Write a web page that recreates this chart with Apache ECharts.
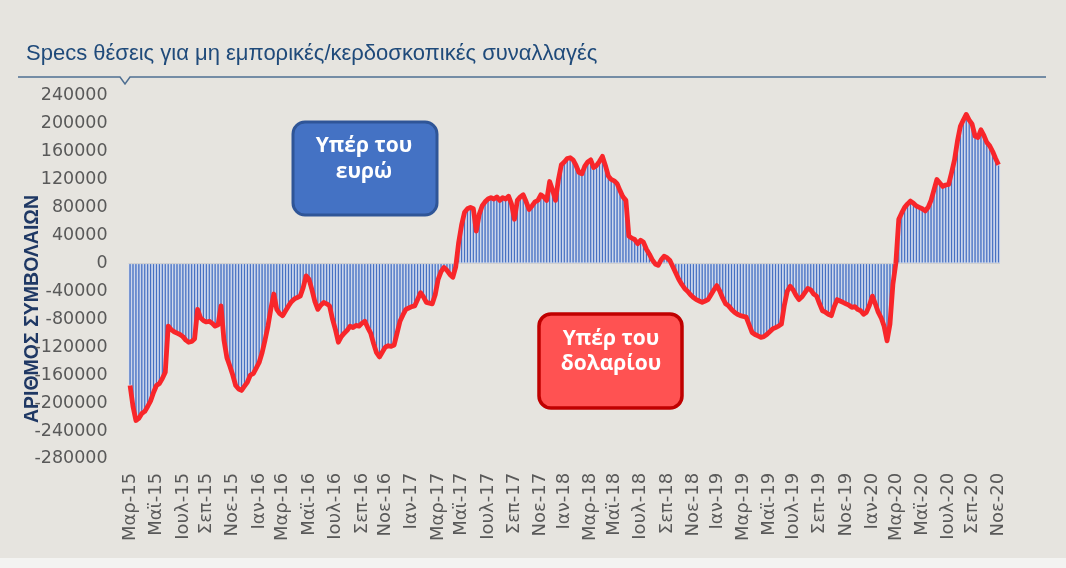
<!DOCTYPE html>
<html><head><meta charset="utf-8">
<script src="https://cdn.jsdelivr.net/npm/echarts@6/dist/echarts.min.js"></script>
<style>html,body{margin:0;padding:0;background:#e6e4df}#c{width:1066px;height:568px}</style>
</head><body><div id="c"></div>
<script>
// Weekly speculative (non-commercial) net positions, EUR futures, from 2015-03-03
const firstWeek = [2015, 2, 3];
const monthNames = ['Ιαν','Φεβ','Μαρ','Απρ','Μαϊ','Ιουν','Ιουλ','Αυγ','Σεπ','Οκτ','Νοε','Δεκ'];
const labelMonths = [0, 2, 4, 6, 8, 10];
const titleText = 'Specs θέσεις για μη εμπορικές/κερδοσκοπικές συναλλαγές';
const yAxisTitle = 'ΑΡΙΘΜΟΣ ΣΥΜΒΟΛΑΙΩΝ';
const boxEuro = ['Υπέρ του', 'ευρώ'];
const boxDollar = ['Υπέρ του', 'δολαρίου'];

const pos2015 = [-175000,-205000,-225000,-222000,-215000,-212000,-205000,-197000,-185000,-175000,
 -172000,-165000,-156000,-90000,-95000,-98000,-100000,-102000,-105000,-110000,
 -113000,-112000,-108000,-66000,-78000,-82000,-84000,-83000,-86000,-90000,
 -88000,-61000,-110000,-135000,-147000,-160000,-175000,-180000,-182000,-176000,
 -170000,-160000,-158000,-150000];
const pos2016 = [-142000,-128000,-110000,-90000,-65000,-44000,-66000,-72000,-75000,-68000,
 -61000,-55000,-51000,-49000,-47000,-35000,-18000,-23000,-38000,-55000,
 -66000,-60000,-56000,-58000,-61000,-80000,-95000,-113000,-105000,-100000,
 -96000,-90000,-92000,-89000,-90000,-86000,-83000,-92000,-100000,-115000,
 -128000,-134000,-127000,-120000,-118000,-119000,-117000,-100000,-83000,-74000,
 -66000,-64000];
const pos2017 = [-62000,-61000,-52000,-42000,-48000,-56000,-57000,-58000,-45000,-23000,
 -12000,-6000,-10000,-16000,-20000,-5000,30000,55000,73000,78000,
 80000,78000,46000,70000,82000,88000,92000,94000,92000,95000,
 90000,94000,92000,96000,85000,63000,90000,95000,98000,88000,
 77000,82000,88000,90000,98000,95000,90000,117000,105000,90000,
 120000,141000];
const pos2018 = [145000,150000,151000,148000,140000,130000,128000,139000,145000,148000,
 137000,140000,146000,153000,140000,125000,120000,118000,114000,104000,
 95000,90000,39000,36000,34000,28000,33000,30000,20000,13000,
 5000,-1000,-3000,5000,10000,8000,4000,-5000,-14000,-23000,
 -30000,-36000,-40000,-45000,-49000,-52000,-54000,-56000,-54000,-52000,
 -45000,-38000];
const pos2019 = [-32000,-40000,-50000,-58000,-61000,-66000,-70000,-73000,-75000,-76000,
 -77000,-88000,-99000,-102000,-104000,-106000,-105000,-102000,-98000,-94000,
 -92000,-90000,-87000,-60000,-40000,-33000,-38000,-46000,-52000,-48000,
 -42000,-36000,-38000,-44000,-47000,-58000,-68000,-70000,-73000,-75000,
 -62000,-52000,-54000,-56000,-58000,-60000,-63000,-62000,-66000,-68000,
 -73000,-70000];
const pos2020 = [-60000,-47000,-58000,-70000,-78000,-90000,-111000,-87000,-30000,0,
 63000,72000,80000,85000,89000,86000,82000,80000,78000,75000,
 80000,90000,105000,120000,115000,110000,112000,113000,130000,148000,
 175000,196000,205000,213000,205000,199000,182000,180000,191000,183000,
 173000,168000,160000,150000,141000];

const positions = [].concat(pos2015, pos2016, pos2017, pos2018, pos2019, pos2020);

// weekly category dates
const weeks = [];
for (let i = 0; i < positions.length; i++) {
  const d = new Date(Date.UTC(firstWeek[0], firstWeek[1], firstWeek[2] + 7 * i));
  weeks.push(d.toISOString().slice(0, 10));
}
const showLabel = weeks.map((w, i) => {
  const m = +w.slice(5, 7) - 1;
  const prevM = i > 0 ? +weeks[i - 1].slice(5, 7) - 1 : -1;
  return m !== prevM && labelMonths.indexOf(m) >= 0;
});
function fmtWeek(w) {
  return monthNames[+w.slice(5, 7) - 1] + '-' + w.slice(2, 4);
}

const FONT = 'DejaVu Sans';
const chart = echarts.init(document.getElementById('c'), null, {renderer: 'canvas'});
chart.setOption({
  backgroundColor: '#e6e4df',
  animation: false,
  title: {
    text: titleText, left: 21, top: 38,
    textStyle: {fontSize: 22, fontWeight: 'normal', color: '#1f4a7a', fontFamily: 'Liberation Sans'}
  },
  grid: {left: 128.6, right: 66, top: 95.6, bottom: 109.1},
  xAxis: {
    type: 'category', data: weeks,
    axisLine: {show: false}, axisTick: {show: false},
    axisLabel: {
      rotate: 90, interval: (idx) => showLabel[idx], margin: 14,
      fontSize: 18, color: '#595959', fontFamily: FONT,
      formatter: (v) => fmtWeek(v)
    }
  },
  yAxis: {
    type: 'value', min: -280000, max: 240000, interval: 40000,
    axisLine: {show: false}, axisTick: {show: false}, splitLine: {show: false},
    axisLabel: {fontSize: 17.5, color: '#595959', fontFamily: FONT, margin: 21,
      formatter: (v) => String(v)}
  },
  series: [
    {
      type: 'bar', data: positions, barCategoryGap: '0%',
      itemStyle: {color: '#4670c2', borderColor: '#d9e2f3', borderWidth: 0.75},
      markLine: {
        silent: true, symbol: 'none', label: {show: false},
        lineStyle: {color: '#d0d0d0', width: 1, type: 'solid'},
        data: [{yAxis: 0}]
      }
    },
    {
      type: 'line', data: positions, symbol: 'none', smooth: false,
      lineStyle: {color: '#f8262a', width: 4.8, join: 'round'}, z: 5
    }
  ],
  graphic: [
    {type: 'rect', shape: {x: 0, y: 558, width: 1066, height: 10}, style: {fill: '#f3f3f1'}},
    {type: 'polyline', shape: {points: [[18, 77], [120, 77], [125, 84], [130, 77], [1046, 77]]},
     style: {stroke: '#4f6f92', lineWidth: 1.5, fill: null}},
    {type: 'text', x: 33, y: 309, rotation: Math.PI / 2,
     style: {text: yAxisTitle, fontSize: 19.5, fontWeight: 'bold', fill: '#1f3864', fontFamily: 'Liberation Sans',
             align: 'center', verticalAlign: 'middle'}},
    {type: 'rect', shape: {x: 293, y: 122, width: 144, height: 93, r: 12},
     style: {fill: '#4472c4', stroke: '#2f5597', lineWidth: 3}, z: 10},
    {type: 'text', x: 364, y: 146, z: 11,
     style: {text: boxEuro[0], fontSize: 21, fontWeight: 'bold', fill: '#ffffff', fontFamily: 'Open Sans', align: 'center', verticalAlign: 'middle'}},
    {type: 'text', x: 364, y: 172, z: 11,
     style: {text: boxEuro[1], fontSize: 21, fontWeight: 'bold', fill: '#ffffff', fontFamily: 'Open Sans', align: 'center', verticalAlign: 'middle'}},
    {type: 'rect', shape: {x: 539, y: 314, width: 143, height: 94, r: 12},
     style: {fill: '#ff5252', stroke: '#c00000', lineWidth: 3.5}, z: 10},
    {type: 'text', x: 611, y: 339, z: 11,
     style: {text: boxDollar[0], fontSize: 21, fontWeight: 'bold', fill: '#ffffff', fontFamily: 'Open Sans', align: 'center', verticalAlign: 'middle'}},
    {type: 'text', x: 611, y: 364, z: 11,
     style: {text: boxDollar[1], fontSize: 21, fontWeight: 'bold', fill: '#ffffff', fontFamily: 'Open Sans', align: 'center', verticalAlign: 'middle'}}
  ]
});
</script></body></html>
